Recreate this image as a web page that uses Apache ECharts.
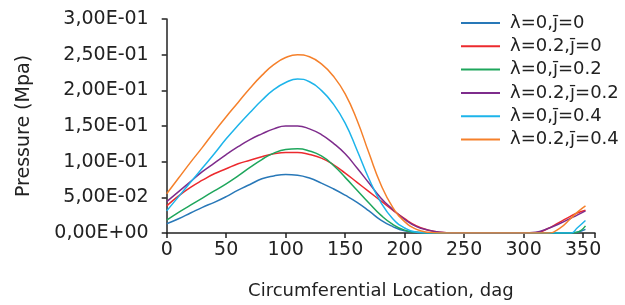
<!DOCTYPE html>
<html>
<head>
<meta charset="utf-8">
<script src="https://cdn.jsdelivr.net/npm/echarts@6/dist/echarts.min.js"></script>
<style>
  html, body { margin: 0; padding: 0; background: #fff; }
  #chart { width: 625px; height: 305px; }
</style>
</head>
<body>
<div id="chart"></div>
<script>
// circumferential location (deg)
const degrees = [0, 10, 20, 30, 40, 50, 60, 70, 80, 90, 100, 110, 120, 130, 140, 150, 160, 170,
  180, 190, 200, 210, 220, 230, 240, 250, 260, 270, 280, 290, 300, 310, 320, 330, 340, 345, 352];

const seriesNames = ["λ=0,j̄=0", "λ=0.2,j̄=0", "λ=0,j̄=0.2", "λ=0.2,j̄=0.2", "λ=0,j̄=0.4", "λ=0.2,j̄=0.4"];

// pressure (Mpa)
const p00 = [0.013, 0.020, 0.028, 0.036, 0.043, 0.051, 0.060, 0.068, 0.076, 0.080, 0.082, 0.081, 0.077, 0.070, 0.062, 0.053, 0.043, 0.031,
  0.018, 0.009, 0.003, 0.001, 0, 0, 0, 0, 0, 0, 0, 0, 0, 0, 0, 0, 0, 0.001, 0.005];
const p20 = [0.038, 0.052, 0.064, 0.074, 0.083, 0.090, 0.097, 0.102, 0.107, 0.111, 0.113, 0.113, 0.110, 0.105, 0.096, 0.084, 0.071, 0.058,
  0.045, 0.032, 0.020, 0.010, 0.004, 0.001, 0, 0, 0, 0, 0, 0, 0, 0, 0.006, 0.015, 0.024, 0.028, 0.032];
const p02 = [0.018, 0.029, 0.039, 0.049, 0.059, 0.069, 0.080, 0.092, 0.103, 0.112, 0.117, 0.118, 0.115, 0.108, 0.095, 0.078, 0.060, 0.042,
  0.025, 0.012, 0.004, 0.001, 0, 0, 0, 0, 0, 0, 0, 0, 0, 0, 0, 0, 0, 0.001, 0.010];
const p22 = [0.044, 0.058, 0.072, 0.086, 0.098, 0.110, 0.121, 0.131, 0.139, 0.146, 0.150, 0.150, 0.146, 0.138, 0.126, 0.111, 0.091, 0.070,
  0.049, 0.033, 0.019, 0.009, 0.004, 0.001, 0, 0, 0, 0, 0, 0, 0, 0.001, 0.006, 0.013, 0.021, 0.025, 0.031];
const p04 = [0.031, 0.051, 0.071, 0.091, 0.111, 0.132, 0.151, 0.169, 0.186, 0.201, 0.211, 0.216, 0.212, 0.200, 0.181, 0.154, 0.116, 0.076,
  0.043, 0.020, 0.007, 0.001, 0, 0, 0, 0, 0, 0, 0, 0, 0, 0, 0, 0, 0, 0.007, 0.0175];
const p24 = [0.055, 0.077, 0.099, 0.120, 0.142, 0.163, 0.183, 0.203, 0.221, 0.236, 0.246, 0.250, 0.247, 0.237, 0.220, 0.195, 0.158, 0.112,
  0.068, 0.036, 0.016, 0.005, 0.001, 0, 0, 0, 0, 0, 0, 0, 0, 0, 0, 0.006, 0.021, 0.029, 0.038];

const yTicks = [0, 0.05, 0.1, 0.15, 0.2, 0.25, 0.3];
const xTicks = [0, 50, 100, 150, 200, 250, 300, 350];

const colors = ["#2878b8", "#ec2a2e", "#1ea65c", "#7e2c8c", "#1db4ea", "#f5802b"];
const allData = [p00, p20, p02, p22, p04, p24];

function sciLabel(v) {
  let s = v.toExponential(2);
  let parts = s.split("e");
  let exp = parseInt(parts[1], 10);
  let sign = exp < 0 ? "-" : "+";
  let e = Math.abs(exp);
  return parts[0].replace(".", ",") + "E" + sign + (e < 10 ? "0" + e : e);
}

let chart = echarts.init(document.getElementById("chart"));
let font = "DejaVu Sans";

chart.setOption({
  animation: false,
  color: colors,
  grid: { left: 166.7, right: 30, top: 19, bottom: 68.3 },
  legend: {
    orient: "vertical",
    left: 461,
    top: 13,
    padding: 0,
    itemGap: 3.3,
    itemWidth: 39,
    itemHeight: 2,
    icon: "rect",
    data: seriesNames,
    textStyle: { fontFamily: font, fontSize: 18, lineHeight: 20, color: "#222", padding: [0, 0, 0, 5] }
  },
  xAxis: {
    type: "value",
    min: 0,
    max: 360,
    interval: 50,
    name: "Circumferential Location, dag",
    nameLocation: "middle",
    nameGap: 49,
    nameTextStyle: { fontFamily: font, fontSize: 18, color: "#222" },
    axisLine: { lineStyle: { color: "#222", width: 1.5 } },
    axisTick: { length: 5, lineStyle: { color: "#222", width: 1.5 } },
    axisLabel: {
      fontFamily: font, fontSize: 19, color: "#222", margin: 8,
      formatter: v => (xTicks.indexOf(v) >= 0 ? String(v) : "")
    },
    splitLine: { show: false }
  },
  yAxis: {
    type: "value",
    min: 0,
    max: 0.3,
    interval: 0.05,
    name: "Pressure (Mpa)",
    nameLocation: "middle",
    nameGap: 133,
    nameTextStyle: { fontFamily: font, fontSize: 19, color: "#222" },
    axisLine: { show: true, lineStyle: { color: "#222", width: 1.5 } },
    axisTick: { show: true, length: 5, lineStyle: { color: "#222", width: 1.5 } },
    axisLabel: {
      fontFamily: font, fontSize: 19, color: "#222", margin: 18,
      formatter: v => sciLabel(v)
    },
    splitLine: { show: false }
  },
  series: seriesNames.map((name, i) => ({
    name: name,
    type: "line",
    smooth: 0.5,
    symbol: "none",
    lineStyle: { width: 1.5 },
    data: degrees.map((d, k) => [d, allData[i][k]])
  }))
});
</script>
</body>
</html>
